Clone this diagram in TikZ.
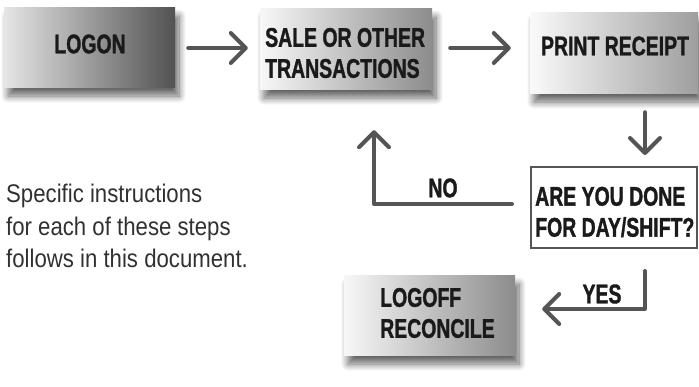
\documentclass[tikz,border=0pt]{standalone}
\usepackage{fontspec}
\setmainfont{Liberation Sans}
\newfontfamily\condfont[FakeStretch=0.72, BoldFeatures={FakeBold=1.2}]{Liberation Sans}
\newfontfamily\bodyfont[FakeStretch=0.87]{Liberation Sans}
\usetikzlibrary{arrows.meta,shadows.blur,calc}
\definecolor{arrowgray}{HTML}{555555}
\definecolor{txtdark}{HTML}{1A1A1A}
\tikzset{
  box/.style={rectangle, inner sep=0pt, draw=none,
    blur shadow={shadow xshift=4pt, shadow yshift=-9pt, shadow blur radius=7pt, shadow blur steps=12, shadow opacity=60}},
  lbl/.style={font=\condfont\bfseries\fontsize{27}{31}\selectfont, text=txtdark, inner sep=0pt, align=left},
  body/.style={font=\bodyfont\fontsize{25.5}{32.5}\selectfont, text=txtdark!90, inner sep=0pt, align=left},
  arr/.style={draw=arrowgray, line width=4pt, line cap=round, line join=round,
    -{Straight Barb[length=15pt, width=30pt, line cap=round, line join=round]}},
}
\begin{document}
\begin{tikzpicture}[x=1pt, y=-1pt]
\useasboundingbox (0,0) rectangle (699,386);
% boxes
\node[box, minimum width=171pt, minimum height=80pt, left color=black!10, right color=black!68] (logon) at (89.5,47) {};
\node[box, minimum width=172pt, minimum height=81pt, left color=black!3, right color=black!45] (sale) at (346,48.5) {};
\node[box, minimum width=168pt, minimum height=81pt, left color=black!2, right color=black!38] (print) at (614,52.5) {};
\node[rectangle, minimum width=166pt, minimum height=81pt, draw=arrowgray, line width=2pt, fill=white] (done) at (614,207.5) {};
\node[box, minimum width=171pt, minimum height=80pt, left color=black!3, right color=black!45] (logoff) at (429.5,315) {};
% texts
\node[lbl, anchor=center] (tlogon) at (90,44) {LOGON};
\node[lbl, anchor=west] (tsale) at (265,53) {SALE OR OTHER\\TRANSACTIONS};
\node[lbl, anchor=center] (tprint) at (615,46) {PRINT RECEIPT};
\node[lbl, anchor=west] (tdone) at (535,212) {ARE YOU DONE\\FOR DAY/SHIFT?};
\node[lbl, anchor=west] (tlogoff) at (380,313) {LOGOFF\\RECONCILE};
\node[lbl, anchor=center] (tno) at (443,188) {NO};
\node[lbl, anchor=center] (tyes) at (602,294) {YES};
\node[body, anchor=west] (tbody) at (6,226) {Specific instructions\\for each of these steps\\follows in this document.};
% connectors
\draw[arr] ($(logon.east)+(13,1)$) -- ($(sale.west)+(-12,-0.5)$);
\draw[arr] ($(sale.east)+(18,-0.5)$) -- ($(print.west)+(-19,-4.5)$);
\draw[arr] ($(print.south)+(31,19)$) -- ($(done.north)+(31,-11)$);
\draw[arr] ($(done.west)+(-18,-3.5)$) -| ($(sale.south)+(28,41)$);
\draw[arr] ($(done.south)+(31,22)$) |- ($(logoff.east)+(27,-6)$);
\end{tikzpicture}
\end{document}
